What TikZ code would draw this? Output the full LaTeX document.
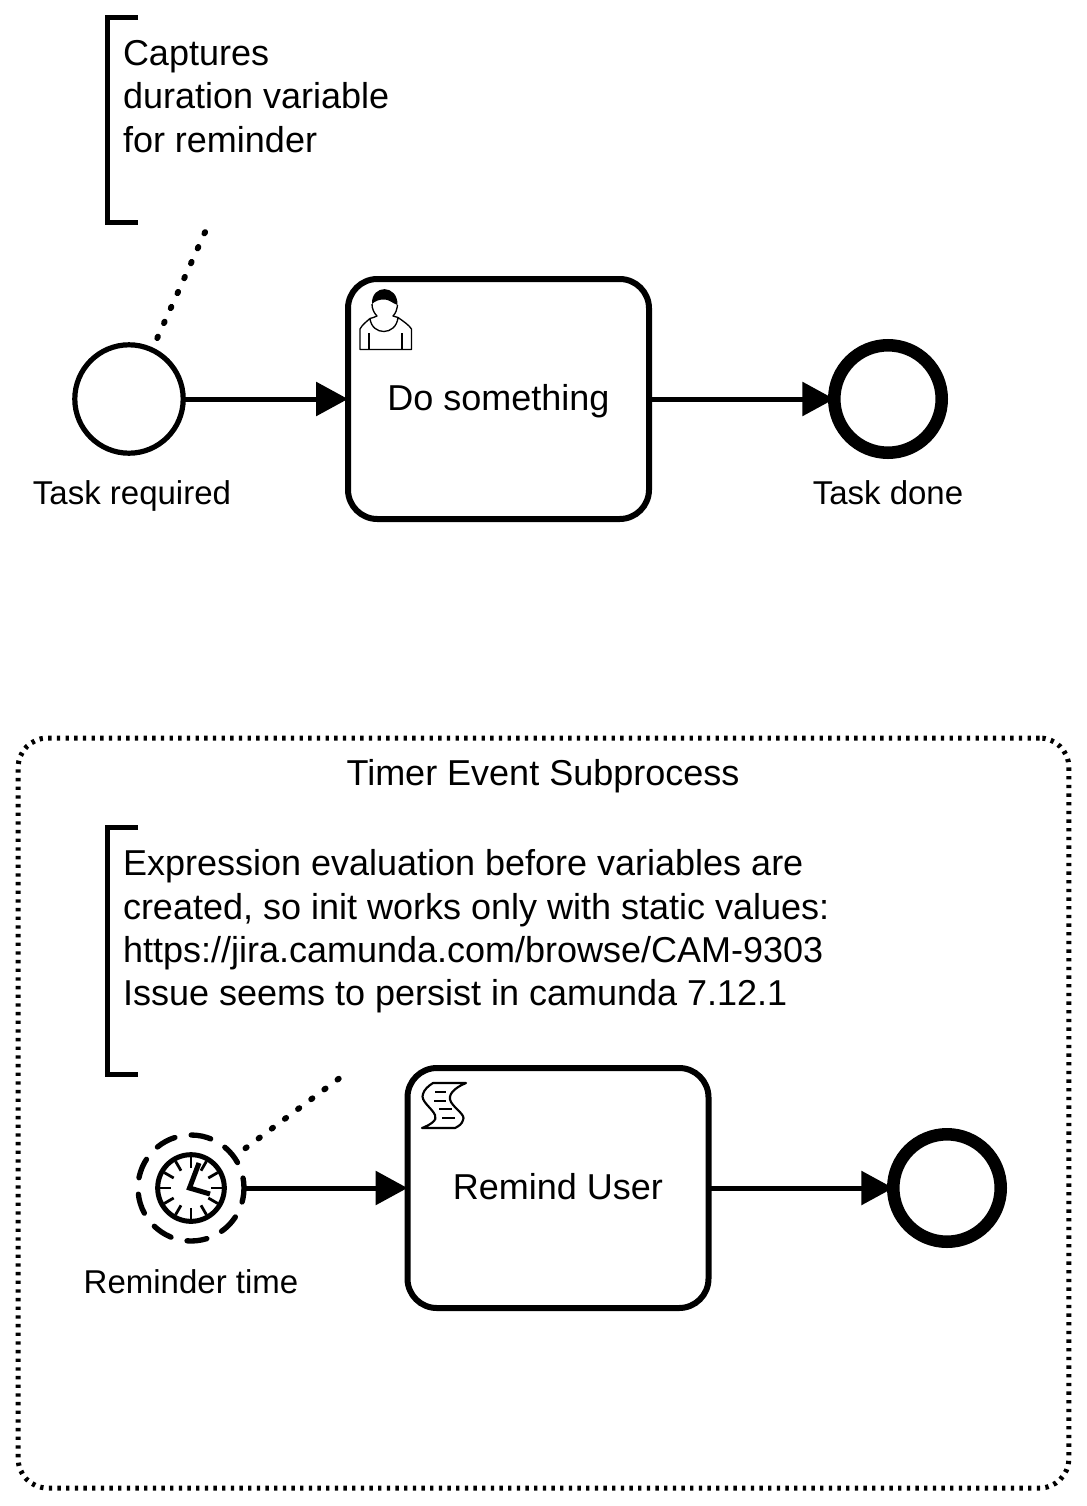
\documentclass[tikz,border=0pt]{standalone}
\usepackage{fontspec}
\setmainfont{Liberation Sans}
\usetikzlibrary{arrows.meta}
\tikzset{
  x=0.75pt,y=-0.75pt,
  every node/.style={inner sep=0pt,outer sep=0pt},
  flow/.style={line width=3.75pt,-{Triangle[length=24pt,width=25pt]}},
  assoc/.style={line width=4.4pt,line cap=round,dash pattern=on 1.2pt off 11.1pt},
  bracket/.style={line width=3.75pt},
  task/.style={draw,line width=4.5pt,rounded corners=22pt,minimum width=225.75pt,minimum height=180pt,text height=22pt,text depth=5.5pt,font=\fontsize{27}{32.6}\selectfont},
  startev/.style={draw,circle,line width=3.9pt,minimum size=81.3pt},
  endev/.style={draw,circle,line width=9.4pt,minimum size=80.6pt},
  timerev/.style={draw,circle,line width=4pt,minimum size=79.5pt,line cap=round,dash pattern=on 15pt off 12.4pt,dash phase=7.5pt},
  clockface/.style={draw,circle,line width=3.75pt,minimum size=50pt},
  lbl/.style={anchor=base,font=\fontsize{24.75}{30}\selectfont},
  note/.style={align=left,anchor=north west,font=\fontsize{27}{32.6}\selectfont},
  icon/.style={line width=1pt,line join=round},
  tick/.style={line width=2.1pt},
  hand/.style={line width=3.75pt},
}
\begin{document}
\begin{tikzpicture}
\useasboundingbox (0,0) rectangle (1086,1506);
% annotation 1
\coordinate (n1t) at (138,17);
\coordinate (n1b) at (138,222);
\coordinate (n1e) at (206,230);
\draw[bracket] (n1t) -- (107,17) -- (107,222) -- (n1b);
\node[note] (n1) at (123,40) {Captures\\duration variable\\for reminder};
% main flow
\node[startev] (s1) at (129,399) {};
\node[task] (t1) at (498.5,399) {Do something};
\node[endev] (e1) at (888,399) {};
\draw[flow] (s1) -- (t1);
\draw[flow] (t1) -- (e1);
\draw[assoc,dash phase=2.6pt] (s1.65) -- (n1e);
\node[lbl] (l1) at (132,504) {Task required};
\node[lbl] (l2) at (888,504) {Task done};
% user icon
\begin{scope}[icon]
\fill (372,304) .. controls (371,284) and (398,284) .. (397.5,305)
  .. controls (392,303) and (390,300) .. (385,299.5)
  .. controls (380,299) and (375,301) .. (372,304) -- cycle;
\draw (372,304) .. controls (372,309) and (374,313) .. (377,316)
  .. controls (375,317) and (372,318) .. (370,318.5);
\draw (397.5,305) .. controls (397,309) and (396,313) .. (393,316)
  .. controls (395,317) and (396,317) .. (398,317.5);
\draw (360,349.5) -- (360,329) .. controls (362,325) and (366,322) .. (370,318.5)
  .. controls (372,336) and (396,336) .. (398,317.5)
  .. controls (403,321) and (409,325) .. (411.5,329) -- (411.5,349.5) -- cycle;
\draw[line width=1.4pt] (369,333) -- (369,349);
\draw[line width=1.4pt] (402,333) -- (402,349);
\end{scope}
% subprocess
\node[draw,line width=3.75pt,rounded corners=22pt,minimum width=788pt,minimum height=562.5pt,dash pattern=on 2.5pt off 4pt] (sp) at (543.5,1113) {};
\node[anchor=base,font=\fontsize{27}{32.6}\selectfont] (sptitle) at (543,785) {Timer Event Subprocess};
% annotation 2
\coordinate (n2t) at (138,827);
\coordinate (n2b) at (138,1074);
\coordinate (n2e) at (341,1077);
\draw[bracket] (n2t) -- (107,827) -- (107,1074) -- (n2b);
\node[note] (n2) at (123,849.5) {Expression evaluation before variables are\\created, so init works only with static values:\\https://jira.camunda.com/browse/CAM-9303\\Issue seems to persist in camunda 7.12.1};
% timer flow
\node[timerev] (tm) at (191,1188) {};
\node[task] (t2) at (558,1188) {Remind User};
\node[endev] (e2) at (947,1188) {};
\draw[flow] (tm) -- (t2);
\draw[flow] (t2) -- (e2);
\draw[assoc,dash phase=1.5pt] (tm.36) -- (n2e);
\node[lbl] (l3) at (191,1293) {Reminder time};
% clock
\node[clockface] (ck) at (191,1188) {};
\foreach \a in {0,30,...,330}{
  \draw[tick] (ck.center) ++(\a:31*0.75pt) -- ++(\a:-11*0.75pt);
}
\draw[hand,line join=miter] (199,1163) -- (189.5,1188) -- (210,1194);
% script icon
\begin{scope}[icon]
\draw[line width=1.6pt] (433,1083) -- (466,1083)
  .. controls (454,1088) and (447,1095) .. (451,1102)
  .. controls (455,1109) and (466,1115) .. (463,1120)
  .. controls (462,1124) and (459,1126) .. (455,1128)
  -- (422,1128)
  .. controls (430,1125) and (438,1120) .. (435,1115)
  .. controls (432,1108) and (420,1101) .. (423,1094)
  .. controls (424,1090) and (428,1086) .. (433,1083) -- cycle;
\draw[line width=1.7pt] (435,1092) -- (446,1092);
\draw[line width=1.7pt] (434,1101) -- (446,1101);
\draw[line width=1.7pt] (439,1109) -- (452,1109);
\draw[line width=1.7pt] (442,1118) -- (455,1118);
\end{scope}
\end{tikzpicture}
\end{document}
